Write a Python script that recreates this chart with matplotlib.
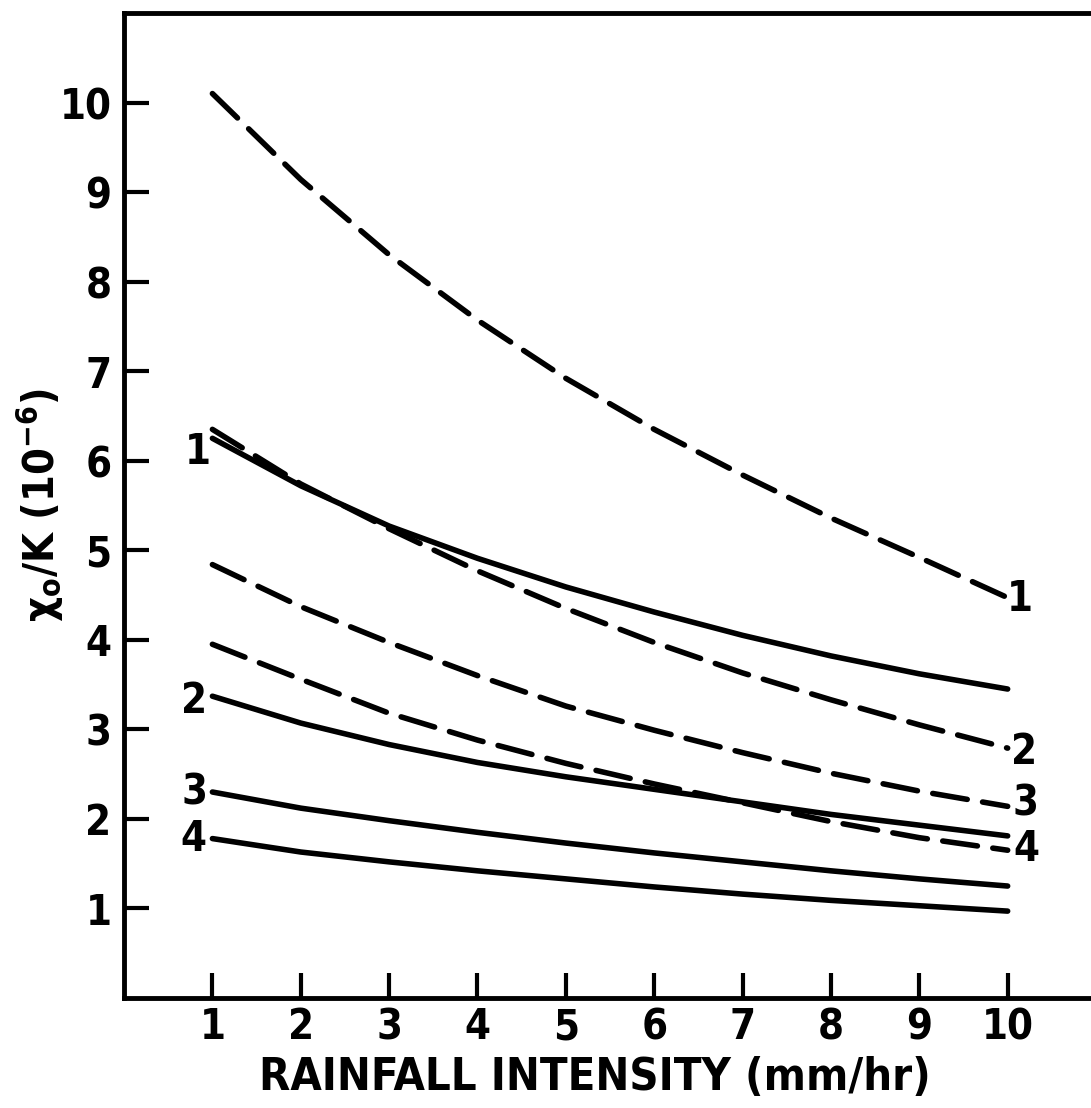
import matplotlib

matplotlib.use("Agg")
import matplotlib.pyplot as plt

plt.rcParams["font.family"] = "DejaVu Sans"
plt.rcParams["font.stretch"] = "condensed"
plt.rcParams["mathtext.default"] = "regular"

# rainfall intensity (mm/hr)
intensity = [1, 2, 3, 4, 5, 6, 7, 8, 9, 10]

# dashed family
dashed_1 = [10.10, 9.14, 8.30, 7.57, 6.92, 6.35, 5.84, 5.36, 4.92, 4.47]
dashed_2 = [6.35, 5.74, 5.24, 4.77, 4.35, 3.97, 3.63, 3.33, 3.05, 2.79]
dashed_3 = [4.84, 4.37, 3.97, 3.60, 3.26, 2.99, 2.74, 2.51, 2.31, 2.14]
dashed_4 = [3.95, 3.56, 3.18, 2.88, 2.62, 2.39, 2.18, 1.97, 1.79, 1.65]

# solid family
solid_1 = [6.25, 5.72, 5.27, 4.91, 4.59, 4.31, 4.05, 3.82, 3.62, 3.45]
solid_2 = [3.37, 3.07, 2.83, 2.63, 2.47, 2.33, 2.19, 2.05, 1.93, 1.81]
solid_3 = [2.30, 2.12, 1.98, 1.85, 1.73, 1.62, 1.52, 1.42, 1.33, 1.25]
solid_4 = [1.78, 1.63, 1.52, 1.42, 1.33, 1.24, 1.16, 1.09, 1.03, 0.97]

curve_ids = ["1", "2", "3", "4"]
x_ticks = [1, 2, 3, 4, 5, 6, 7, 8, 9, 10]
y_ticks = [1, 2, 3, 4, 5, 6, 7, 8, 9, 10]

LW = 4.0
INK = "black"

fig = plt.figure(figsize=(10.91, 11.08), dpi=100)
ax = fig.add_axes([0.1137, 0.0993, 0.8909, 0.8890])

dashed = [dashed_1, dashed_2, dashed_3, dashed_4]
solid = [solid_1, solid_2, solid_3, solid_4]

for ys in dashed:
    ax.plot(intensity, ys, color=INK, lw=LW, dashes=(6.3, 2.8),
            dash_capstyle="round", solid_joinstyle="round")
for ys in solid:
    ax.plot(intensity, ys, color=INK, lw=LW, solid_capstyle="round",
            solid_joinstyle="round")

# curve numbers: solid family on the left, dashed family on the right
left_offsets = [(-0.16, -0.15), (-0.21, -0.05), (-0.20, 0.0), (-0.22, -0.01)]
for cid, ys, (dx, dy) in zip(curve_ids, solid, left_offsets):
    ax.text(intensity[0] + dx, ys[0] + dy, cid, fontsize=30, fontweight="bold",
            ha="center", va="center", color=INK)
right_offsets = [(0.14, -0.01), (0.19, -0.04), (0.20, 0.03), (0.21, 0.01)]
for cid, ys, (dx, dy) in zip(curve_ids, dashed, right_offsets):
    ax.text(intensity[-1] + dx, ys[-1] + dy, cid, fontsize=30, fontweight="bold",
            ha="center", va="center", color=INK)

ax.set_xlim(0, 11)
ax.set_ylim(0, 11)
ax.set_xticks(x_ticks)
ax.set_yticks(y_ticks)
ax.tick_params(direction="in", length=18, width=3.0, color=INK)
ax.tick_params(axis="x", pad=6)
ax.tick_params(axis="y", pad=9)
for lab in ax.get_xticklabels() + ax.get_yticklabels():
    lab.set_fontsize(30)
    lab.set_fontweight("bold")

for side in ["left", "bottom", "top"]:
    ax.spines[side].set_linewidth(3.5)
ax.spines["right"].set_visible(False)

ax.set_xlabel("RAINFALL INTENSITY (mm/hr)", fontsize=32.5, fontweight="bold",
              va="center")
ax.xaxis.set_label_coords(0.4846, -0.081)
ax.set_ylabel(r"$\chi_o$/K (10$^{-6}$)", fontsize=31, fontweight="bold",
              va="center")
ax.yaxis.set_label_coords(-0.0864, 0.5)

fig.savefig("out.png", dpi=100)
